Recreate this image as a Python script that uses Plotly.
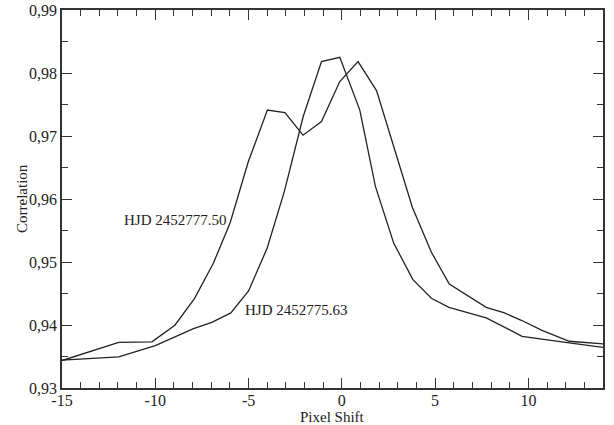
import plotly.graph_objects as go

# Curve HJD 2452777.50
shift_a = [-15, -11.96, -10.18, -8.95, -7.9, -6.88, -5.99, -5.01, -3.99, -3.05, -2.08, -1.09, -0.11, 0.87, 1.86, 2.83, 3.78, 4.80, 5.76, 7.74, 8.72, 9.62, 10.73, 12.19, 14.0]
corr_a = [0.93436, 0.93724, 0.93732, 0.93996, 0.94420, 0.94985, 0.95619, 0.96595, 0.97412, 0.97371, 0.97013, 0.97230, 0.97864, 0.98181, 0.97720, 0.96790, 0.95870, 0.95155, 0.94650, 0.94281, 0.94191, 0.94075, 0.93916, 0.93742, 0.93700]

# Curve HJD 2452775.63
shift_b = [-15, -11.96, -10.0, -7.95, -6.97, -5.95, -5.0, -4.0, -3.08, -2.07, -1.09, -0.11, 0.96, 1.80, 2.78, 3.81, 4.80, 5.74, 7.74, 9.66, 12.19, 14.0]
corr_b = [0.93441, 0.93495, 0.93674, 0.93943, 0.94043, 0.94192, 0.94540, 0.95222, 0.96120, 0.97309, 0.98181, 0.98250, 0.97415, 0.96200, 0.95300, 0.94720, 0.94425, 0.94281, 0.94113, 0.93821, 0.93717, 0.93645]

x_ticks = [-15, -10, -5, 0, 5, 10]
y_ticks = [0.93, 0.94, 0.95, 0.96, 0.97, 0.98, 0.99]
y_ticktext = ["0,93", "0,94", "0,95", "0,96", "0,97", "0,98", "0,99"]

labels = ["HJD 2452777.50", "HJD 2452775.63"]
label_x = [-8.93, -2.41]
label_y = [0.95670, 0.94244]

x_title = "Pixel Shift"
y_title = "Correlation"

line_style = dict(color="#222222", width=1.3)
font_family = "Liberation Serif, Times New Roman, serif"
text_font = dict(family=font_family, size=15, color="#222222")

fig = go.Figure()
fig.add_trace(go.Scatter(x=shift_a, y=corr_a, mode="lines", line=line_style, name=labels[0]))
fig.add_trace(go.Scatter(x=shift_b, y=corr_b, mode="lines", line=line_style, name=labels[1]))

for t, lx, ly in zip(labels, label_x, label_y):
    fig.add_annotation(x=lx, y=ly, text=t, showarrow=False, xanchor="center", yanchor="middle",
                       font=text_font)

# axis titles as paper annotations for exact placement
fig.add_annotation(xref="paper", yref="paper", x=0.5, y=0, yshift=-29, xanchor="center", yanchor="middle",
                   text=x_title, showarrow=False, font=text_font)
fig.add_annotation(xref="paper", yref="paper", x=0, y=0.5, xshift=-40, xanchor="center", yanchor="middle",
                   text=y_title, textangle=-90, showarrow=False, font=text_font)

axis_common = dict(
    showgrid=False, zeroline=False, showline=True, linecolor="#333333", linewidth=1.8,
    mirror="allticks", ticks="inside", ticklen=10, tickwidth=1.2, tickcolor="#333333",
    tickfont=dict(family=font_family, size=16, color="#222222"), automargin=False,
)

fig.update_xaxes(range=[-15, 14], tickvals=x_ticks, ticktext=[str(v) for v in x_ticks],
                 ticklabelstandoff=-3,
                 minor=dict(dtick=1, tick0=0, ticks="inside", ticklen=6, tickwidth=1.1, tickcolor="#333333"),
                 **axis_common)
fig.update_yaxes(range=[0.93, 0.99], tickvals=y_ticks, ticktext=y_ticktext,
                 minor=dict(dtick=0.005, tick0=0.93, ticks="inside", ticklen=6, tickwidth=1.1, tickcolor="#333333"),
                 **axis_common)

fig.update_layout(width=614, height=425, margin=dict(l=62, r=11, t=10, b=37),
                  paper_bgcolor="white", plot_bgcolor="white", showlegend=False)

fig.write_html("out.html", config={"displayModeBar": False},
               post_script="document.body.style.margin='0';document.body.style.overflow='hidden';")
